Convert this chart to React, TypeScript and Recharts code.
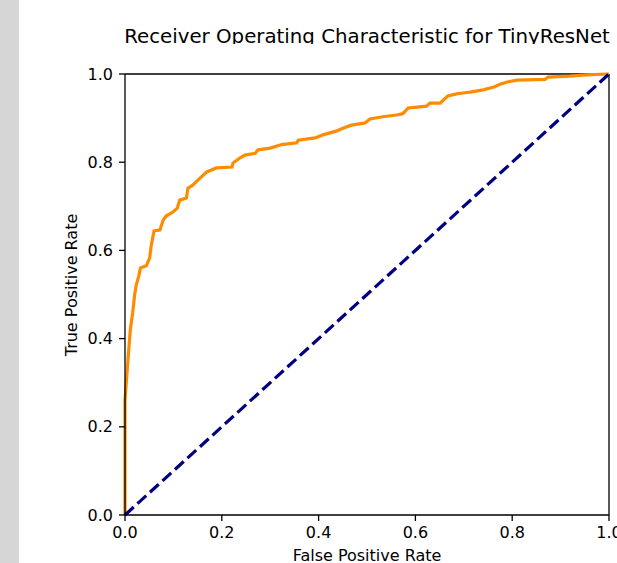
import React from "react";
import { LineChart, Line, XAxis, YAxis, ReferenceLine } from "recharts";

// ROC curve (false positive rate / true positive rate)
const fpr = [
  0, 0, 0.003, 0.006, 0.011, 0.016, 0.02, 0.023, 0.028, 0.032, 0.044, 0.051,
  0.054, 0.06, 0.072, 0.079, 0.085, 0.099, 0.108, 0.113, 0.127, 0.13, 0.14,
  0.151, 0.155, 0.169, 0.189, 0.221, 0.223, 0.238, 0.248, 0.269, 0.275, 0.3,
  0.324, 0.355, 0.358, 0.393, 0.409, 0.438, 0.45, 0.468, 0.496, 0.506, 0.533,
  0.561, 0.574, 0.585, 0.603, 0.623, 0.63, 0.651, 0.667, 0.685, 0.698, 0.713,
  0.74, 0.764, 0.775, 0.79, 0.81, 0.868, 0.874, 0.919, 0.954, 0.996, 1.0,
];
const tpr = [
  0, 0.26, 0.306, 0.35, 0.42, 0.46, 0.5, 0.52, 0.54, 0.56, 0.565, 0.583, 0.61,
  0.644, 0.646, 0.669, 0.678, 0.687, 0.696, 0.714, 0.719, 0.741, 0.748, 0.76,
  0.764, 0.778, 0.787, 0.789, 0.798, 0.81, 0.816, 0.82, 0.828, 0.832, 0.84,
  0.844, 0.85, 0.855, 0.862, 0.871, 0.877, 0.884, 0.889, 0.898, 0.903, 0.907,
  0.91, 0.923, 0.925, 0.927, 0.934, 0.934, 0.95, 0.955, 0.957, 0.959, 0.964,
  0.971, 0.977, 0.982, 0.986, 0.988, 0.993, 0.995, 0.998, 1.0, 1.0,
];

// chance line
const chanceFpr = [0, 1];
const chanceTpr = [0, 1];

const ticks = [0, 0.2, 0.4, 0.6, 0.8, 1.0];

const rocData = fpr.map((x, i) => ({ fpr: x, tpr: tpr[i] }));
const chanceData = chanceFpr.map((x, i) => ({ fpr: x, tpr: chanceTpr[i] }));

const FONT = "'DejaVu Sans', sans-serif";
const tickStyle = { fill: "#000", fontSize: 16, fontFamily: FONT };
const spine = { stroke: "#000", strokeWidth: 1.3 };

export default function App() {
  return (
    <div
      style={{
        position: "absolute",
        left: 0,
        top: 0,
        width: 617,
        height: 563,
        background: "#fff",
        overflow: "hidden",
      }}
    >
      <div
        style={{
          position: "absolute",
          left: 0,
          top: 0,
          width: 19,
          height: 563,
          background: "#d6d6d6",
        }}
      />
      <LineChart
        width={617}
        height={563}
        margin={{ top: 74, right: 8, bottom: 0, left: 0 }}
      >
        <XAxis
          dataKey="fpr"
          type="number"
          domain={[0, 1]}
          ticks={ticks}
          tickFormatter={(v: number) => v.toFixed(1)}
          height={48}
          tick={tickStyle}
          tickSize={6}
          tickMargin={6}
          axisLine={spine}
          tickLine={spine}
          interval={0}
        />
        <YAxis
          type="number"
          domain={[0, 1]}
          ticks={ticks}
          tickFormatter={(v: number) => v.toFixed(1)}
          width={125}
          tick={tickStyle}
          tickSize={6}
          tickMargin={6}
          axisLine={spine}
          tickLine={spine}
          interval={0}
        />
        <ReferenceLine y={1} stroke="#000" strokeWidth={1.3} />
        <ReferenceLine x={1} stroke="#000" strokeWidth={1.3} />
        <Line
          data={rocData}
          dataKey="tpr"
          type="linear"
          stroke="#ff8c00"
          strokeWidth={3.2}
          dot={false}
          activeDot={false}
          isAnimationActive={false}
        />
        <Line
          data={chanceData}
          dataKey="tpr"
          type="linear"
          stroke="#000080"
          strokeWidth={3.2}
          strokeDasharray="11.8 5.1"
          dot={false}
          activeDot={false}
          isAnimationActive={false}
        />
      </LineChart>
      <svg
        width={617}
        height={563}
        style={{ position: "absolute", left: 0, top: 0, pointerEvents: "none" }}
      >
        <defs>
          <clipPath id="titleClip">
            <rect x={0} y={0} width={617} height={44} />
          </clipPath>
        </defs>
        <text
          x={367}
          y={42.5}
          textAnchor="middle"
          fontFamily={FONT}
          fontSize={19.8}
          fill="#000"
          clipPath="url(#titleClip)"
        >
          Receiver Operating Characteristic for TinyResNet
        </text>
        <text
          x={367}
          y={561}
          textAnchor="middle"
          fontFamily={FONT}
          fontSize={16}
          fill="#000"
        >
          False Positive Rate
        </text>
        <text
          transform="translate(77,285) rotate(-90)"
          textAnchor="middle"
          fontFamily={FONT}
          fontSize={16}
          fill="#000"
        >
          True Positive Rate
        </text>
      </svg>
    </div>
  );
}
